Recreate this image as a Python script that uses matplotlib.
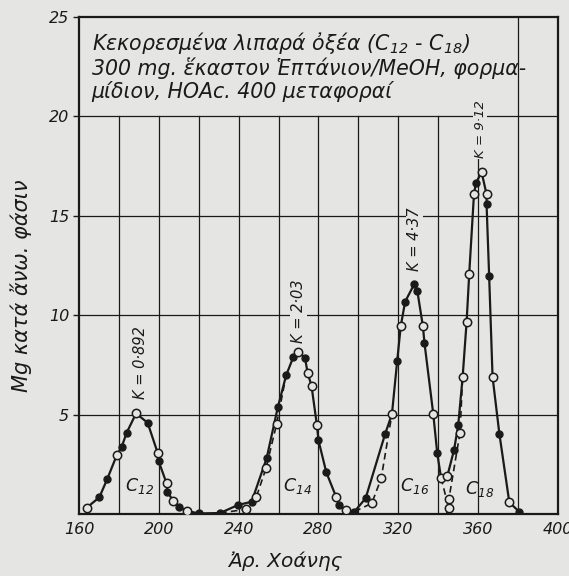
import matplotlib
matplotlib.use('Agg')
import matplotlib.pyplot as plt

# =========================
# DATA (tube no. vs mg in upper phase)
# =========================
tube = [163.9, 170.2, 174.2, 178.9, 181.4, 183.9, 188.6, 194.4, 199.4, 199.9,
        203.9, 204.2, 207.2, 210.0, 214.0, 220.3, 230.7, 239.6, 246.5, 254.0,
        259.6, 263.8, 267.4, 269.9, 273.2, 274.6, 276.5, 279.2, 280.0, 283.9,
        288.8, 290.4, 293.8, 298.0, 303.6, 313.3, 316.8, 319.4, 321.2, 323.4,
        327.9, 329.5, 332.3, 333.1, 337.5, 339.5, 341.4, 344.6, 347.9, 350.0,
        352.2, 354.2, 355.5, 357.9, 358.9, 361.7, 364.2, 364.2, 365.5, 367.2,
        370.6, 375.6, 380.5]
mg = [0.32, 0.84, 1.77, 2.95, 3.38, 4.09, 5.06, 4.59, 3.08, 2.66,
      1.54, 1.12, 0.67, 0.37, 0.15, 0.03, 0.05, 0.45, 0.62, 2.8,
      5.36, 6.98, 7.9, 8.16, 7.87, 7.08, 6.45, 4.47, 3.7, 2.1,
      0.87, 0.45, 0.2, 0.12, 0.79, 4.0, 5.03, 7.68, 9.45, 10.68,
      11.55, 11.23, 9.45, 8.6, 5.03, 3.05, 1.82, 1.93, 3.22, 4.47,
      6.87, 9.66, 12.06, 16.1, 16.65, 17.2, 16.08, 15.58, 11.96, 6.9,
      4.05, 0.59, 0.12]
# f = filled point, o = open point
kind = "offoffofof" "ofofofffff" "fffofoooff" "ofofffofof" "ffofofooff" "oooofooffo" "fof"

# dashed branches (resolved single components), ' ' = no marker
dash_c14_x = [230.7, 243.8, 248.8, 253.7, 259.0, 263.8]
dash_c14_y = [0.05, 0.24, 0.84, 2.3, 4.52, 6.98]
dash_c14_m = " oooo "
dash_c16_x = [298.0, 306.7, 311.4, 316.8]
dash_c16_y = [0.12, 0.54, 1.79, 5.03]
dash_c16_m = " oo "
dash_c16b_x = [341.4, 345.3, 346.4]
dash_c16b_y = [1.82, 0.28, 0.0]
dash_c16b_m = " o "
dash_c18_x = [344.2, 345.3, 350.9, 352.2]
dash_c18_y = [0.0, 0.74, 4.09, 6.87]
dash_c18_m = " oo "

peak_labels = ["K = 0·892", "K = 2·03", "K = 4·37", "K = 9·12"]
peak_label_x = [191, 270, 328, 361]
peak_label_y = [5.8, 8.6, 12.2, 17.9]
peak_label_size = [10.5, 10.5, 10.5, 9.5]

acid_labels = ["C$_{12}$", "C$_{14}$", "C$_{16}$", "C$_{18}$"]
acid_label_x = [183, 262, 321, 353.5]
acid_label_y = [1.4, 1.4, 1.4, 1.25]

title_lines = ["Κεκορεσμένα λιπαρά ὀξέα (C$_{12}$ - C$_{18}$)",
               "300 mg. ἕκαστον Ἑπτάνιον/MeOH, φορμα-",
               "μίδιον, HOAc. 400 μεταφοραί"]

x_ticks = [160, 200, 240, 280, 320, 360, 400]
y_ticks = [5, 10, 15, 20, 25]

PAPER = "#e5e5e3"
INK = "#1a1a1a"

plt.rcParams['font.family'] = ['DejaVu Sans']
plt.rcParams['font.style'] = 'italic'
plt.rcParams['mathtext.fontset'] = 'custom'
plt.rcParams['mathtext.rm'] = 'DejaVu Sans:italic'
plt.rcParams['mathtext.it'] = 'DejaVu Sans:italic'

fig = plt.figure(figsize=(5.69, 5.76), dpi=100, facecolor=PAPER)
ax = fig.add_axes([0.1388, 0.1076, 0.8419, 0.8629], facecolor=PAPER)
ax.set_xlim(160, 400)
ax.set_ylim(0, 25)

# grid: vertical lines stop under the title box, except the one at 380
for gx in range(180, 400, 20):
    top = 25 if gx == 380 else 20
    ax.plot([gx, gx], [0, top], color=INK, lw=0.9, zorder=1)
for gy in [5, 10, 15, 20]:
    ax.axhline(gy, color=INK, lw=0.9, zorder=1)


def draw_markers(xs, ys, marks):
    for xx, yy, m in zip(xs, ys, marks):
        if m == 'f':
            ax.plot(xx, yy, 'o', ms=5, mfc=INK, mec=INK, mew=1, zorder=4)
        elif m == 'o':
            ax.plot(xx, yy, 'o', ms=6, mfc=PAPER, mec=INK, mew=1.1, zorder=4)


ax.plot(tube, mg, color=INK, lw=1.6, zorder=3)
draw_markers(tube, mg, kind)

for xs, ys, ms in [(dash_c14_x, dash_c14_y, dash_c14_m),
                   (dash_c16_x, dash_c16_y, dash_c16_m),
                   (dash_c16b_x, dash_c16b_y, dash_c16b_m),
                   (dash_c18_x, dash_c18_y, dash_c18_m)]:
    ax.plot(xs, ys, color=INK, lw=1.2, ls=(0, (4, 2.5)), zorder=3)
    draw_markers(xs, ys, ms)

for lab, lx, ly, fs in zip(peak_labels, peak_label_x, peak_label_y, peak_label_size):
    ax.text(lx, ly, lab, rotation=90, ha='center', va='bottom', fontsize=fs,
            color=INK, zorder=5,
            bbox=dict(facecolor=PAPER, edgecolor='none', pad=0.5))

for lab, lx, ly in zip(acid_labels, acid_label_x, acid_label_y):
    ax.text(lx, ly, lab, ha='left', va='center', fontsize=12.5, color=INK, zorder=5)

ax.text(166.3, 24.35, "\n".join(title_lines), ha='left', va='top', fontsize=14.8,
        color=INK, linespacing=1.1, zorder=5)

ax.set_xticks(x_ticks)
ax.set_yticks(y_ticks)
ax.tick_params(axis='x', length=0, pad=6, labelsize=11.5, colors=INK)
ax.tick_params(axis='y', length=4, width=1, pad=3, labelsize=11.5, colors=INK)
for s in ax.spines.values():
    s.set_color(INK)
    s.set_linewidth(1.6)

ax.set_xlabel("Ἀρ. Χοάνης", fontsize=14.5, color=INK)
ax.xaxis.set_label_coords(0.43, -0.075)
ax.set_ylabel("Mg κατά ἄνω. φάσιν", fontsize=15, color=INK)
ax.yaxis.set_label_coords(-0.098, 0.46)

fig.savefig("out.png", dpi=100, facecolor=PAPER)
